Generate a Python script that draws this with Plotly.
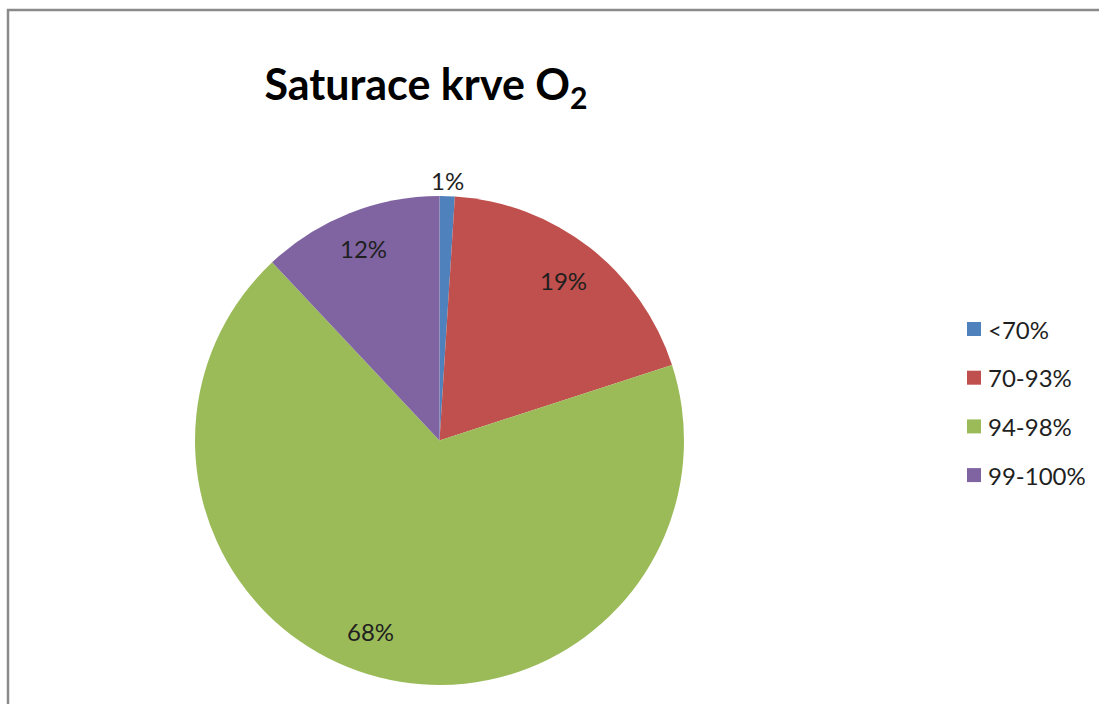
import math
import plotly.graph_objects as go

# Distribution of blood oxygen saturation
categories = ["<70%", "70-93%", "94-98%", "99-100%"]
shares = [1, 19, 68, 12]
colors = ["#4F81BD", "#C0504D", "#9BBB59", "#8064A2"]

W, H = 1099, 704
cx, cy, r = 439.5, 440.5, 244.5  # pie centre and radius in pixels

fig = go.Figure(
    go.Pie(
        labels=categories,
        values=shares,
        sort=False,
        direction="clockwise",
        rotation=0,
        marker=dict(colors=colors, line=dict(width=0)),
        textinfo="none",
        hoverinfo="label+percent",
        showlegend=False,
        domain=dict(x=[(cx - r) / W, (cx + r) / W], y=[(H - cy - r) / H, (H - cy + r) / H]),
    )
)

# Percentage labels: best-fit placement near each slice's mid-angle
label_font = dict(family="Lato", size=24, color="#1f1f1f")
label_radius = [1.065, 0.83, 0.83, 0.845]   # fraction of pie radius
label_turn = [0, 0, 5.5, 0]                  # extra rotation in degrees
total = sum(shares)
cum = 0
annotations = []
for i, v in enumerate(shares):
    mid = (cum + v / 2) / total * 2 * math.pi + math.radians(label_turn[i])
    cum += v
    px = cx + r * label_radius[i] * math.sin(mid)
    py = cy - r * label_radius[i] * math.cos(mid)
    annotations.append(dict(
        x=px / W, y=1 - py / H, xref="paper", yref="paper",
        text=f"{round(v / total * 100)}%", showarrow=False,
        font=label_font, xanchor="center", yanchor="middle",
    ))

# Legend drawn as coloured squares with category names
shapes = []
leg_x, leg_y0, leg_dy, sq = 967, 329, 48.7, 14
for i, (cat, col) in enumerate(zip(categories, colors)):
    y = leg_y0 + i * leg_dy
    shapes.append(dict(
        type="rect", xref="paper", yref="paper",
        x0=leg_x / W, x1=(leg_x + sq) / W,
        y0=1 - (y - sq / 2) / H, y1=1 - (y + sq / 2) / H,
        fillcolor=col, line=dict(width=0),
    ))
    annotations.append(dict(
        x=(leg_x + sq + 5) / W, y=1 - y / H, xref="paper", yref="paper",
        text=cat, showarrow=False, xanchor="left", yanchor="middle",
        font=label_font,
    ))

# Chart-area frame
shapes.append(dict(
    type="rect", xref="paper", yref="paper",
    x0=8 / W, x1=1115 / W, y0=1 - 10 / H, y1=1 - 720 / H,
    line=dict(color="#8a8a8a", width=2.5), fillcolor="rgba(0,0,0,0)",
))

fig.update_layout(
    width=W, height=H,
    margin=dict(l=0, r=0, t=0, b=0),
    paper_bgcolor="white",
    plot_bgcolor="white",
    title=dict(
        text="<b>Saturace krve O<sub>2</sub></b>",
        x=426 / W, xanchor="center",
        y=1 - 85 / H, yanchor="middle",
        font=dict(family="Lato", size=43, color="black"),
    ),
    annotations=annotations,
    shapes=shapes,
)

fig.write_html("out.html")
